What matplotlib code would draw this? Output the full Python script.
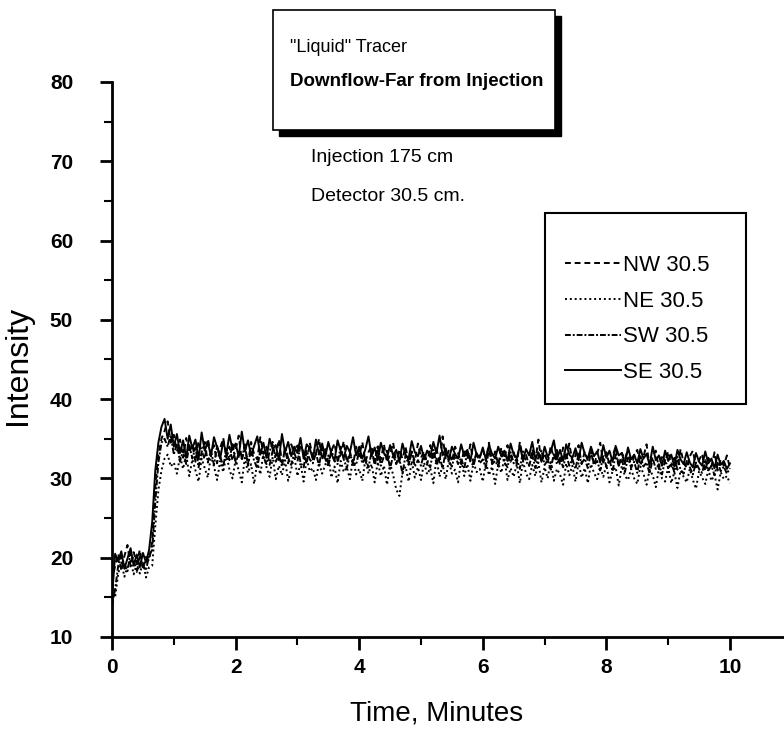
import numpy as np
import matplotlib
matplotlib.use('Agg')
import matplotlib.pyplot as plt
from matplotlib.patches import Rectangle
from matplotlib.ticker import MultipleLocator

plt.rcParams['font.family'] = ['Liberation Sans', 'DejaVu Sans']

# time grid, 0.05 min sampling
time = np.linspace(0, 10, 201)

se = [15.0, 20.5, 19.5, 20.8, 18.6, 19.9, 21.2, 19.0, 20.4, 18.8,
      20.6, 19.4, 21.0, 24.5, 31.0, 34.5, 36.5, 37.5, 35.0, 36.8,
      34.0, 35.6, 33.2, 34.8, 32.6, 35.4, 33.8, 34.9, 32.4, 35.8,
      33.5, 34.6, 32.8, 35.2, 33.9, 32.5, 34.7, 33.1, 35.5, 33.6,
      34.4, 32.7, 35.9, 33.4, 34.8, 32.9, 34.1, 35.3, 33.0, 34.5,
      32.6, 35.0, 33.7, 34.2, 32.3, 35.6, 33.3, 34.6, 32.8, 34.0,
      33.2, 35.1, 32.5, 34.3, 33.8, 32.4, 34.9, 33.0, 34.4, 32.7,
      34.6, 33.1, 32.2, 34.8, 33.5, 32.6, 34.1, 33.3, 35.2, 32.9,
      34.0, 32.5, 33.7, 35.3, 32.8, 33.9, 32.3, 34.5, 33.2, 32.6,
      34.2, 32.9, 33.6, 32.1, 34.4, 33.0, 32.5, 34.7, 33.3, 32.8,
      34.1, 32.4, 33.5, 32.7, 34.6, 33.2, 35.4, 32.9, 33.8, 32.3,
      34.0, 33.1, 32.5, 34.3, 32.8, 33.6, 32.2, 34.5, 33.0, 32.6,
      33.9, 32.4, 34.2, 33.1, 32.5, 34.0, 32.8, 33.5, 32.2, 34.4,
      33.0, 32.6, 34.1, 32.3, 33.7, 32.9, 34.6, 32.5, 33.3, 32.1,
      34.0, 32.7, 33.4, 34.8, 32.4, 33.6, 32.2, 34.3, 33.0, 32.6,
      33.8, 32.3, 34.5, 33.1, 32.5, 34.0, 32.8, 33.4, 32.0, 34.2,
      32.6, 33.5, 32.1, 34.1, 32.9, 33.2, 31.8, 33.9, 32.4, 33.0,
      31.9, 33.7, 32.5, 33.1, 31.7, 34.0, 32.3, 32.9, 31.6, 33.5,
      32.2, 33.0, 31.5, 33.6, 32.4, 31.8, 33.3, 32.0, 31.4, 33.2,
      32.1, 31.6, 33.4, 31.9, 32.5, 31.3, 33.0, 31.7, 32.2, 31.2, 31.9]

nw = [17.0, 19.0, 20.5, 18.4, 20.2, 21.6, 18.9, 20.7, 19.3, 21.0,
      18.5, 20.1, 19.6, 22.0, 29.0, 33.0, 35.0, 36.0, 37.2, 34.5,
      35.5, 33.4, 34.9, 32.6, 35.1, 33.2, 34.3, 32.1, 34.7, 33.5,
      32.4, 35.0, 33.1, 34.2, 31.9, 33.8, 35.1, 32.6, 34.0, 32.2,
      33.6, 35.4, 32.3, 33.9, 31.8, 34.6, 33.0, 32.4, 35.2, 33.1,
      34.0, 31.7, 33.5, 32.8, 34.9, 32.0, 33.6, 31.9, 34.3, 33.2,
      32.1, 34.2, 33.3, 31.8, 34.5, 32.6, 33.2, 35.0, 32.3, 33.7,
      31.9, 33.5, 34.4, 32.2, 33.0, 34.7, 32.0, 33.4, 31.7, 34.0,
      32.8, 34.6, 32.1, 33.3, 34.1, 31.6, 33.5, 32.4, 34.3, 32.0,
      33.1, 34.5, 31.8, 33.6, 32.5, 34.0, 31.9, 33.2, 32.2, 34.4,
      32.6, 33.4, 31.7, 34.2, 32.3, 33.8, 32.0, 35.3, 32.4, 33.5,
      32.1, 34.0, 33.2, 31.8, 33.7, 32.4, 34.3, 31.9, 33.3, 32.7,
      33.6, 32.2, 34.5, 32.0, 33.4, 31.7, 33.9, 32.5, 34.2, 32.1,
      33.3, 31.8, 34.6, 32.4, 33.0, 31.6, 33.7, 32.2, 34.9, 32.0,
      33.2, 31.9, 34.1, 32.5, 33.6, 31.7, 33.9, 32.3, 34.4, 32.1,
      32.9, 34.2, 31.8, 33.4, 32.2, 33.8, 31.6, 33.1, 34.5, 32.0,
      33.3, 31.7, 32.8, 34.0, 31.5, 33.2, 32.4, 33.8, 31.3, 32.9,
      33.6, 31.6, 32.7, 34.3, 31.4, 32.8, 33.5, 31.2, 33.0, 32.1,
      33.4, 31.5, 32.6, 31.1, 33.7, 32.0, 31.3, 32.8, 33.5, 31.4,
      32.3, 33.1, 30.9, 32.6, 31.5, 33.3, 31.0, 32.4, 31.6, 32.9, 31.3]

sw = [14.0, 16.0, 19.0, 20.2, 19.1, 18.3, 20.6, 19.7, 18.2, 20.1,
      19.0, 18.4, 20.3, 21.0, 27.0, 32.0, 34.5, 35.0, 34.0, 35.5,
      33.0, 34.4, 32.1, 33.6, 31.8, 34.2, 32.5, 33.9, 31.4, 33.3,
      34.6, 32.0, 33.5, 31.7, 34.1, 32.8, 31.5, 33.7, 32.3, 34.5,
      31.9, 33.2, 32.5, 34.3, 31.6, 33.8, 32.2, 31.3, 33.6, 32.7,
      31.8, 33.4, 34.6, 32.1, 33.0, 31.5, 33.9, 32.6, 31.7, 33.3,
      34.3, 32.0, 31.4, 33.5, 32.4, 31.9, 33.2, 31.6, 33.8, 32.5,
      31.5, 33.6, 32.2, 31.8, 34.0, 32.4, 31.3, 33.1, 32.0, 31.7,
      33.5, 31.9, 32.6, 31.4, 33.3, 32.1, 34.2, 31.6, 32.8, 33.5,
      31.2, 33.0, 31.8, 32.5, 30.6, 32.9, 31.7, 33.4, 31.5, 32.3,
      31.6, 33.2, 32.0, 31.4, 33.6, 31.9, 32.7, 31.3, 33.4, 32.2,
      31.5, 33.0, 31.8, 32.6, 31.2, 33.5, 32.1, 31.6, 33.2, 31.9,
      32.4, 31.3, 33.7, 31.8, 32.2, 31.5, 33.1, 32.0, 31.4, 33.3,
      31.9, 32.5, 31.2, 33.4, 32.1, 31.6, 33.0, 31.3, 32.7, 33.5,
      31.7, 32.3, 31.1, 33.2, 31.8, 32.6, 31.4, 33.0, 31.6, 32.4,
      31.2, 33.1, 31.9, 32.5, 31.3, 33.3, 31.7, 32.2, 31.0, 32.8,
      31.5, 32.3, 30.9, 33.0, 31.6, 32.4, 30.8, 32.6, 31.4, 32.1,
      30.7, 32.8, 31.5, 32.0, 30.6, 32.5, 31.2, 31.8, 30.5, 32.3,
      31.3, 31.9, 30.8, 32.7, 31.1, 30.6, 32.2, 31.4, 30.5, 32.0,
      31.2, 30.7, 32.4, 31.0, 31.6, 30.4, 32.1, 30.9, 31.5, 30.6, 31.3]

ne = [16.0, 15.0, 18.0, 19.4, 17.6, 18.9, 19.8, 17.9, 19.2, 18.0,
      19.5, 17.5, 18.8, 19.0, 24.0, 28.5, 31.0, 32.5, 33.0, 31.5,
      32.0, 30.6, 32.8, 31.2, 33.1, 30.3, 32.4, 31.0, 29.6, 32.5,
      31.3, 30.1, 32.9, 31.5, 29.8, 32.2, 30.8, 33.0, 31.1, 30.0,
      32.4, 31.0, 29.5, 32.6, 30.7, 31.8, 29.3, 32.1, 30.5, 33.2,
      31.4, 30.2, 32.7, 29.9, 31.6, 30.4, 32.3, 29.7, 31.2, 32.8,
      30.3, 31.9, 29.6, 32.5, 30.9, 31.3, 29.8, 32.0, 30.6, 31.7,
      32.9, 30.1, 31.5, 29.4, 32.2, 30.8, 31.4, 29.9, 32.6, 30.5,
      31.2, 29.7, 32.4, 30.6, 31.8, 29.5, 32.1, 30.3, 31.6, 29.2,
      31.9, 30.4, 28.6, 27.8, 30.7, 31.5, 29.6, 32.2, 30.1, 31.4,
      29.8, 32.0, 30.5, 31.3, 29.4, 32.5, 30.2, 31.7, 29.9, 32.3,
      30.6, 31.1, 29.5, 32.4, 30.3, 31.8, 29.7, 32.0, 30.8, 31.2,
      29.6, 32.1, 30.4, 31.5, 29.3, 31.9, 30.7, 32.6, 29.8, 31.3,
      30.2, 31.8, 29.4, 32.2, 30.6, 29.9, 31.7, 30.3, 32.0, 29.5,
      31.4, 30.0, 32.3, 29.7, 31.2, 30.5, 29.2, 31.9, 30.4, 31.6,
      29.6, 32.0, 30.1, 31.3, 29.4, 31.8, 30.7, 29.9, 31.5, 30.2,
      31.7, 29.5, 30.9, 31.4, 29.1, 31.6, 30.3, 29.8, 31.2, 30.0,
      29.3, 31.5, 30.6, 29.2, 31.1, 30.4, 28.9, 31.3, 30.0, 29.6,
      31.4, 29.4, 30.8, 28.8, 31.0, 30.2, 29.5, 31.2, 29.8, 28.7,
      30.9, 30.1, 29.3, 31.1, 29.7, 30.5, 28.6, 30.8, 29.9, 30.3, 29.4]

series = [('NW 30.5', nw, (0, (3, 2))),
          ('NE 30.5', ne, (0, (1, 1.5))),
          ('SW 30.5', sw, (0, (3, 1, 1, 1))),
          ('SE 30.5', se, '-')]

fig = plt.figure(figsize=(7.84, 7.38), dpi=100)
ax = fig.add_axes([0.1429, 0.1369, 0.867, 0.752])

for label, vals, ls in series:
    ax.plot(time, vals, color='black', linestyle=ls, linewidth=1.4, label=label)

ax.set_xlim(0, 11)
ax.set_ylim(10, 80)
ax.xaxis.set_major_locator(MultipleLocator(2))
ax.xaxis.set_minor_locator(MultipleLocator(1))
ax.yaxis.set_major_locator(MultipleLocator(10))
ax.yaxis.set_minor_locator(MultipleLocator(5))
for side in ['top', 'right']:
    ax.spines[side].set_visible(False)
for side in ['left', 'bottom']:
    ax.spines[side].set_linewidth(2)
ax.tick_params(which='major', direction='out', length=9, width=2, labelsize=15)
ax.tick_params(which='minor', direction='out', length=6, width=1.5)
ax.tick_params(axis='y', which='major', pad=19)
ax.tick_params(axis='x', which='major', pad=6)
for lab in ax.get_xticklabels() + ax.get_yticklabels():
    lab.set_fontweight('bold')

ax.set_xlabel('Time, Minutes', fontsize=20)
ax.set_ylabel('Intensity', fontsize=23)
ax.xaxis.set_label_coords(0.478, -0.114)
ax.yaxis.set_label_coords(-0.116, 0.49)

# legend: entries without frame, box drawn separately
leg = ax.legend(loc='upper left', bbox_to_anchor=(565 / 784, 1 - 255 / 738),
                bbox_transform=fig.transFigure, fontsize=16, frameon=False,
                handlelength=2.5, handletextpad=0.1, labelspacing=0.66,
                borderpad=0, borderaxespad=0)
fig.patches.append(Rectangle((545 / 784, 1 - 404 / 738), 201 / 784, 191 / 738,
                             transform=fig.transFigure, facecolor='none',
                             edgecolor='black', linewidth=1.5))

# title box with drop shadow
dx, dy = 6 / 784, 6 / 738
fig.patches.append(Rectangle((0.348 + dx, 0.8238 - dy), 0.36, 0.1626, transform=fig.transFigure,
                             facecolor='black', edgecolor='black', zorder=5))
fig.patches.append(Rectangle((0.348, 0.8238), 0.36, 0.1626, transform=fig.transFigure,
                             facecolor='white', edgecolor='black', linewidth=1.2, zorder=6))
fig.text(0.37, 0.935, '"Liquid" Tracer', fontsize=13, va='center', zorder=7)
fig.text(0.37, 0.889, 'Downflow-Far from Injection', fontsize=13.5, fontweight='bold',
         va='center', zorder=7)

fig.text(0.3967, 0.786, 'Injection 175 cm', fontsize=14, va='center')
fig.text(0.3967, 0.734, 'Detector 30.5 cm.', fontsize=14, va='center')

fig.savefig('out.png', dpi=100)
